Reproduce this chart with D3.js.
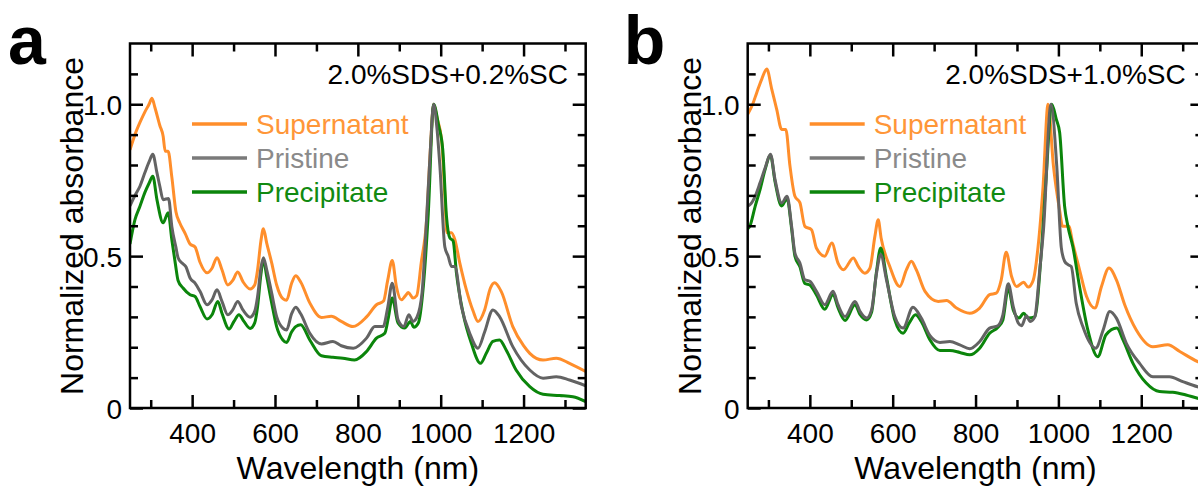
<!DOCTYPE html>
<html><head><meta charset="utf-8">
<script src="https://cdn.jsdelivr.net/npm/d3@7"></script>
<style>body{margin:0;background:#fff}svg{display:block}</style>
</head><body><svg id="c" width="1198" height="488"></svg>
<script>
// ---------- data ----------
const xMajorTicks = [400, 600, 800, 1000, 1200];
const xMinorTicks = [300, 500, 700, 900, 1100, 1300];
const yMajorTicks = [0, 0.5, 1.0];
const yMinorTicks = [0.1, 0.2, 0.3, 0.4, 0.6, 0.7, 0.8, 0.9, 1.1];
const yTickLabels = ["0", "0.5", "1.0"];
const seriesNames = ["Supernatant", "Pristine", "Precipitate"];
const panelLetters = ["a", "b"];
const panelNotes = ["2.0%SDS+0.2%SC", "2.0%SDS+1.0%SC"];

// panel a: [wavelength nm, normalized absorbance]
const aSupernatant = [[250,0.85],[262,0.90],[274,0.94],[286,0.975],[296,1.0],[303,1.02],[310,0.99],[322,0.93],[330,0.895],[335,0.845],[342,0.845],[351,0.76],[361,0.645],[370,0.61],[383,0.575],[395,0.54],[407,0.53],[419,0.48],[436,0.445],[448,0.46],[460,0.495],[472,0.455],[486,0.405],[498,0.42],[510,0.448],[523,0.415],[540,0.392],[551,0.405],[558,0.455],[566,0.55],[572,0.59],[580,0.543],[592,0.478],[604,0.405],[619,0.36],[628,0.355],[640,0.41],[650,0.435],[662,0.415],[684,0.346],[712,0.298],[736,0.302],[760,0.285],[788,0.268],[821,0.3],[845,0.34],[862,0.352],[872,0.42],[883,0.486],[893,0.40],[905,0.356],[915,0.37],[922,0.38],[933,0.362],[942,0.37],[953,0.478],[966,0.62],[975,0.85],[983,1.0],[992,0.95],[1002,0.885],[1010,0.7],[1015,0.577],[1026,0.577],[1034,0.555],[1046,0.478],[1062,0.389],[1078,0.32],[1090,0.285],[1106,0.323],[1120,0.395],[1130,0.412],[1146,0.384],[1174,0.268],[1200,0.205],[1215,0.18],[1247,0.158],[1279,0.164],[1311,0.147],[1350,0.12]];
const aPristine = [[250,0.665],[262,0.70],[274,0.73],[286,0.775],[296,0.81],[305,0.835],[315,0.775],[322,0.73],[330,0.686],[343,0.69],[351,0.597],[361,0.528],[366,0.495],[375,0.478],[385,0.465],[395,0.428],[407,0.411],[419,0.384],[436,0.34],[448,0.356],[460,0.389],[472,0.351],[486,0.307],[498,0.323],[510,0.351],[523,0.322],[540,0.299],[551,0.318],[558,0.367],[566,0.46],[572,0.495],[580,0.455],[592,0.378],[604,0.301],[619,0.263],[628,0.257],[640,0.31],[650,0.332],[662,0.31],[684,0.246],[712,0.211],[740,0.219],[760,0.205],[789,0.197],[821,0.23],[841,0.268],[861,0.268],[872,0.33],[883,0.411],[897,0.29],[911,0.268],[923,0.307],[933,0.285],[943,0.30],[955,0.38],[965,0.6],[975,0.85],[983,1.0],[991,0.92],[998,0.797],[1010,0.53],[1018,0.5],[1026,0.466],[1034,0.466],[1050,0.334],[1070,0.246],[1090,0.197],[1106,0.25],[1126,0.323],[1142,0.301],[1174,0.202],[1215,0.125],[1247,0.098],[1279,0.103],[1311,0.092],[1350,0.073]];
const aPrecipitate = [[250,0.54],[262,0.62],[274,0.664],[286,0.71],[296,0.74],[305,0.763],[315,0.686],[330,0.61],[342,0.643],[351,0.554],[360,0.47],[366,0.42],[378,0.395],[395,0.373],[407,0.367],[419,0.334],[436,0.293],[448,0.307],[462,0.351],[472,0.312],[489,0.26],[501,0.285],[513,0.307],[525,0.285],[540,0.262],[551,0.28],[558,0.334],[566,0.44],[572,0.488],[580,0.433],[592,0.346],[604,0.268],[619,0.224],[628,0.216],[640,0.25],[650,0.268],[662,0.274],[684,0.224],[712,0.172],[740,0.167],[764,0.164],[792,0.158],[821,0.186],[845,0.23],[865,0.246],[874,0.30],[883,0.362],[897,0.28],[913,0.263],[927,0.285],[935,0.266],[946,0.28],[958,0.40],[970,0.64],[983,1.0],[995,0.93],[1005,0.85],[1014,0.63],[1022,0.56],[1030,0.55],[1038,0.444],[1054,0.312],[1074,0.213],[1096,0.147],[1110,0.18],[1126,0.219],[1142,0.224],[1158,0.191],[1182,0.125],[1215,0.07],[1247,0.045],[1287,0.041],[1319,0.037],[1350,0.021]];

// panel b
const bSupernatant = [[250,0.967],[262,1.0],[272,1.039],[284,1.083],[296,1.116],[308,1.05],[320,0.983],[332,0.917],[342,0.917],[352,0.797],[364,0.697],[376,0.676],[388,0.598],[404,0.587],[416,0.526],[436,0.5],[453,0.543],[468,0.477],[481,0.455],[505,0.494],[517,0.466],[533,0.444],[545,0.46],[557,0.565],[565,0.62],[572,0.56],[593,0.466],[617,0.40],[633,0.455],[645,0.483],[657,0.455],[678,0.384],[710,0.351],[730,0.354],[754,0.329],[786,0.312],[810,0.329],[834,0.373],[850,0.378],[862,0.422],[874,0.513],[887,0.433],[899,0.40],[916,0.414],[927,0.398],[939,0.42],[951,0.532],[963,0.73],[975,1.0],[988,0.797],[1003,0.65],[1010,0.598],[1025,0.598],[1035,0.54],[1051,0.455],[1068,0.367],[1088,0.329],[1104,0.40],[1122,0.461],[1140,0.422],[1160,0.34],[1188,0.257],[1228,0.202],[1264,0.208],[1293,0.186],[1336,0.153],[1350,0.145]];
const bPristine = [[250,0.665],[256,0.67],[268,0.697],[280,0.742],[292,0.79],[305,0.835],[316,0.752],[332,0.675],[345,0.697],[356,0.598],[364,0.51],[376,0.477],[388,0.422],[400,0.417],[416,0.384],[436,0.34],[456,0.384],[468,0.34],[485,0.301],[509,0.351],[521,0.318],[537,0.296],[549,0.323],[561,0.444],[571,0.505],[585,0.422],[605,0.301],[625,0.263],[649,0.332],[669,0.296],[690,0.238],[714,0.216],[738,0.219],[762,0.208],[786,0.195],[810,0.219],[834,0.263],[854,0.271],[866,0.307],[879,0.409],[891,0.334],[903,0.28],[911,0.271],[923,0.304],[932,0.285],[943,0.30],[955,0.455],[964,0.587],[982,1.0],[996,0.797],[1007,0.528],[1015,0.483],[1023,0.472],[1031,0.466],[1043,0.345],[1059,0.268],[1090,0.197],[1108,0.257],[1124,0.318],[1140,0.296],[1164,0.213],[1196,0.147],[1228,0.103],[1268,0.103],[1300,0.087],[1336,0.07],[1350,0.065]];
const bPrecipitate = [[250,0.59],[255,0.598],[268,0.664],[280,0.72],[292,0.785],[305,0.832],[316,0.745],[332,0.665],[345,0.69],[356,0.59],[364,0.50],[376,0.465],[388,0.41],[400,0.405],[416,0.372],[436,0.325],[456,0.374],[468,0.33],[485,0.288],[509,0.34],[521,0.308],[537,0.29],[549,0.315],[561,0.45],[571,0.527],[585,0.43],[605,0.29],[625,0.246],[640,0.28],[655,0.307],[669,0.285],[690,0.224],[714,0.189],[738,0.189],[762,0.183],[786,0.175],[810,0.197],[834,0.246],[854,0.266],[866,0.29],[879,0.395],[891,0.323],[905,0.296],[916,0.312],[927,0.296],[943,0.30],[958,0.5],[970,0.75],[984,1.0],[995,0.95],[1003,0.907],[1015,0.664],[1023,0.598],[1035,0.53],[1051,0.40],[1071,0.257],[1095,0.169],[1115,0.241],[1141,0.263],[1156,0.224],[1180,0.147],[1212,0.082],[1244,0.054],[1276,0.052],[1308,0.043],[1336,0.032],[1350,0.028]];

// ---------- drawing ----------
const FONT = "'Liberation Sans', Arial, Helvetica, sans-serif";
const lineColors = ["#FF8E2B", "#636363", "#0B850B"];
const legendLineColors = ["#FF8E2B", "#7A7A7A", "#0B850B"];
const legendTextColors = ["#FF9638", "#8A8A8A", "#118A11"];
const drawOrder = [0, 2, 1];

const svg = d3.select("#c");
const panels = [
  {x0: 130, data: [aSupernatant, aPristine, aPrecipitate]},
  {x0: 747.7, data: [bSupernatant, bPristine, bPrecipitate]}
];
const PW = 455.7, PTOP = 43.5, PBOT = 408;

panels.forEach((p, i) => {
  const x = d3.scaleLinear().domain([250, 1350]).range([p.x0, p.x0 + PW]);
  const y = d3.scaleLinear().domain([0, 1.2]).range([PBOT, PTOP]);
  const g = svg.append("g");

  const clipId = "clip" + i;
  svg.append("clipPath").attr("id", clipId).append("rect")
    .attr("x", p.x0).attr("y", PTOP).attr("width", PW).attr("height", PBOT - PTOP);

  const line = d3.line().x(d => x(d[0])).y(d => y(d[1])).curve(d3.curveMonotoneX);
  drawOrder.forEach(k => {
    g.append("path").datum(p.data[k]).attr("d", line)
      .attr("fill", "none").attr("stroke", lineColors[k]).attr("stroke-width", 3)
      .attr("stroke-linejoin", "round").attr("clip-path", `url(#${clipId})`);
  });

  function tickAxis(axis, vals, size, tr) {
    const a = g.append("g").attr("transform", tr)
      .call(axis.tickValues(vals).tickSize(size).tickFormat(""));
    a.select(".domain").remove();
    a.selectAll("line").attr("stroke", "#000").attr("stroke-width", 2.5);
  }
  tickAxis(d3.axisBottom(x), xMajorTicks, -13, `translate(0,${PBOT})`);
  tickAxis(d3.axisBottom(x), xMinorTicks, -8, `translate(0,${PBOT})`);
  tickAxis(d3.axisTop(x), xMajorTicks, -13, `translate(0,${PTOP})`);
  tickAxis(d3.axisTop(x), xMinorTicks, -8, `translate(0,${PTOP})`);
  tickAxis(d3.axisLeft(y), yMajorTicks, -13, `translate(${p.x0},0)`);
  tickAxis(d3.axisLeft(y), yMinorTicks, -8, `translate(${p.x0},0)`);
  tickAxis(d3.axisRight(y), yMajorTicks, -13, `translate(${p.x0 + PW},0)`);
  tickAxis(d3.axisRight(y), yMinorTicks, -8, `translate(${p.x0 + PW},0)`);

  const xl = g.append("g").attr("transform", `translate(0,${PBOT})`)
    .call(d3.axisBottom(x).tickValues(xMajorTicks).tickSize(0).tickPadding(15).tickFormat(d3.format("d")));
  xl.select(".domain").remove();
  xl.selectAll("text").attr("font-size", 28).attr("font-family", FONT).attr("fill", "#000");
  const yl = g.append("g").attr("transform", `translate(${p.x0},0)`)
    .call(d3.axisLeft(y).tickValues(yMajorTicks).tickSize(0).tickPadding(8)
      .tickFormat((d, j) => yTickLabels[j]));
  yl.select(".domain").remove();
  yl.selectAll("text").attr("font-size", 28).attr("font-family", FONT).attr("fill", "#000").attr("dy", "0.36em");

  g.append("rect").attr("x", p.x0).attr("y", PTOP).attr("width", PW).attr("height", PBOT - PTOP)
    .attr("fill", "none").attr("stroke", "#000").attr("stroke-width", 2.5);

  g.append("text").attr("x", p.x0 + PW / 2).attr("y", 479).attr("text-anchor", "middle")
    .attr("font-family", FONT).attr("font-size", 32).text("Wavelength (nm)");
  g.append("text").attr("transform", `translate(${p.x0 - 47},${226}) rotate(-90)`)
    .attr("text-anchor", "middle").attr("font-family", FONT).attr("font-size", 32)
    .text("Normalized absorbance");

  g.append("text").attr("x", p.x0 - (i === 0 ? 122 : 124)).attr("y", 64)
    .attr("font-family", FONT).attr("font-weight", "bold").attr("font-size", 68)
    .text(panelLetters[i]);

  g.append("text").attr("x", p.x0 + 438).attr("y", 84).attr("text-anchor", "end")
    .attr("font-family", FONT).attr("font-size", 28).text(panelNotes[i]);

  const legY = [124, 158, 192];
  seriesNames.forEach((name, k) => {
    g.append("line").attr("x1", p.x0 + 62).attr("x2", p.x0 + 117)
      .attr("y1", legY[k]).attr("y2", legY[k])
      .attr("stroke", legendLineColors[k]).attr("stroke-width", 3.5);
    g.append("text").attr("x", p.x0 + 126).attr("y", legY[k] + 9.5)
      .attr("font-family", FONT).attr("font-size", 28).attr("fill", legendTextColors[k])
      .text(name);
  });
});
</script></body></html>
